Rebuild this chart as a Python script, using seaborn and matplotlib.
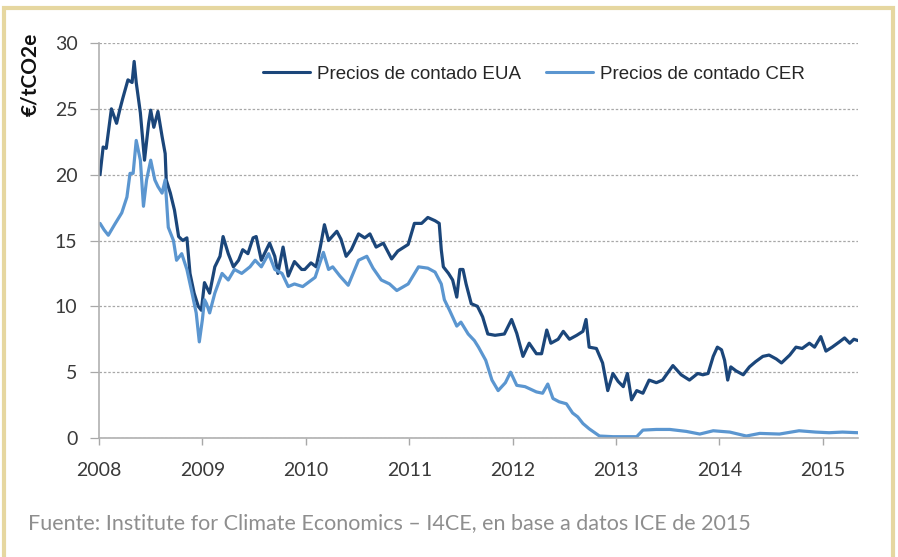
import numpy as np
import pandas as pd
import matplotlib
matplotlib.use("Agg")
import matplotlib.pyplot as plt
import seaborn as sns
from matplotlib.patches import Rectangle

# EUA spot prices (EUR/tCO2e), decimal years
eua_years = [
    2008.01, 2008.04, 2008.07, 2008.12, 2008.17, 2008.20, 2008.23, 2008.28, 2008.32, 2008.34,
    2008.36, 2008.40, 2008.44, 2008.48, 2008.50, 2008.53, 2008.57, 2008.61, 2008.64, 2008.65,
    2008.69, 2008.73, 2008.77, 2008.81, 2008.85, 2008.88, 2008.92, 2008.96, 2008.99, 2009.02,
    2009.07, 2009.12, 2009.17, 2009.20, 2009.25, 2009.30, 2009.35, 2009.39, 2009.44, 2009.49,
    2009.52, 2009.57, 2009.60, 2009.65, 2009.70, 2009.73, 2009.78, 2009.83, 2009.89, 2009.96,
    2009.99, 2010.05, 2010.10, 2010.14, 2010.18, 2010.22, 2010.30, 2010.34, 2010.39, 2010.44,
    2010.51, 2010.57, 2010.62, 2010.68, 2010.75, 2010.83, 2010.89, 2010.99, 2011.05, 2011.12,
    2011.18, 2011.25, 2011.29, 2011.31, 2011.33, 2011.38, 2011.42, 2011.46, 2011.49, 2011.52,
    2011.55, 2011.60, 2011.66, 2011.71, 2011.76, 2011.83, 2011.92, 2011.99, 2012.04, 2012.10,
    2012.16, 2012.23, 2012.28, 2012.33, 2012.37, 2012.44, 2012.49, 2012.55, 2012.62, 2012.68,
    2012.71, 2012.74, 2012.81, 2012.87, 2012.92, 2012.97, 2013.02, 2013.07, 2013.11, 2013.15,
    2013.20, 2013.26, 2013.32, 2013.39, 2013.45, 2013.55, 2013.63, 2013.71, 2013.79, 2013.84,
    2013.89, 2013.94, 2013.98, 2014.02, 2014.05, 2014.08, 2014.11, 2014.16, 2014.23, 2014.29,
    2014.35, 2014.42, 2014.48, 2014.55, 2014.60, 2014.68, 2014.74, 2014.80, 2014.87, 2014.92,
    2014.98, 2015.03, 2015.09, 2015.16, 2015.21, 2015.26, 2015.30, 2015.34,
]
eua_prices = [
    20.0, 22.1, 22.0, 25.0, 23.9, 24.9, 25.8, 27.2, 27.0, 28.6,
    27.0, 24.7, 21.1, 23.9, 24.9, 23.6, 24.8, 22.9, 21.6, 19.6,
    18.6, 17.3, 15.3, 15.0, 15.2, 12.5, 11.0, 10.0, 9.7, 11.8,
    11.0, 13.0, 13.8, 15.3, 14.0, 13.0, 13.5, 14.3, 14.0, 15.2,
    15.3, 13.5, 14.0, 14.8, 13.8, 12.5, 14.5, 12.3, 13.4, 12.8,
    12.8, 13.3, 13.0, 14.5, 16.2, 15.0, 15.7, 15.1, 13.8, 14.3,
    15.5, 15.2, 15.5, 14.5, 14.8, 13.6, 14.2, 14.7, 16.3, 16.3,
    16.75, 16.5, 16.3, 14.3, 13.0, 12.5, 12.0, 10.7, 12.8, 12.8,
    11.7, 10.2, 10.0, 9.2, 7.9, 7.8, 7.9, 9.0, 7.95, 6.2,
    7.2, 6.4, 6.4, 8.2, 7.2, 7.5, 8.1, 7.5, 7.8, 8.1,
    9.0, 6.9, 6.8, 5.7, 3.6, 4.9, 4.3, 3.9, 4.9, 2.9,
    3.6, 3.4, 4.4, 4.2, 4.4, 5.5, 4.8, 4.4, 4.9, 4.8,
    4.9, 6.2, 6.9, 6.7, 5.9, 4.4, 5.4, 5.1, 4.8, 5.4,
    5.8, 6.2, 6.3, 6.0, 5.7, 6.3, 6.9, 6.8, 7.2, 6.9,
    7.7, 6.6, 6.9, 7.3, 7.6, 7.2, 7.5, 7.4,
]

# CER spot prices (EUR/tCO2e)
cer_years = [
    2008.01, 2008.05, 2008.09, 2008.15, 2008.22, 2008.27, 2008.30, 2008.33, 2008.36, 2008.40,
    2008.43, 2008.46, 2008.50, 2008.54, 2008.57, 2008.61, 2008.64, 2008.67, 2008.72, 2008.75,
    2008.80, 2008.85, 2008.90, 2008.94, 2008.97, 2009.00, 2009.02, 2009.04, 2009.07, 2009.12,
    2009.19, 2009.25, 2009.31, 2009.38, 2009.46, 2009.51, 2009.57, 2009.64, 2009.70, 2009.77,
    2009.83, 2009.89, 2009.97, 2010.09, 2010.17, 2010.22, 2010.26, 2010.33, 2010.41, 2010.51,
    2010.59, 2010.65, 2010.73, 2010.81, 2010.88, 2010.99, 2011.09, 2011.18, 2011.25, 2011.31,
    2011.34, 2011.39, 2011.46, 2011.50, 2011.57, 2011.63, 2011.67, 2011.74, 2011.80, 2011.86,
    2011.93, 2011.98, 2012.04, 2012.12, 2012.23, 2012.29, 2012.34, 2012.39, 2012.45, 2012.52,
    2012.58, 2012.63, 2012.68, 2012.74, 2012.84, 2012.97, 2013.10, 2013.20, 2013.26, 2013.39,
    2013.52, 2013.68, 2013.81, 2013.94, 2014.10, 2014.26, 2014.39, 2014.58, 2014.77, 2014.93,
    2015.06, 2015.19, 2015.34,
]
cer_prices = [
    16.3, 15.8, 15.4, 16.2, 17.1, 18.3, 20.1, 20.1, 22.6, 21.1,
    17.6, 19.6, 21.1, 19.6, 19.1, 18.6, 19.6, 16.0, 15.0, 13.5,
    14.0, 12.8, 11.0, 9.5, 7.3, 9.0, 10.5, 10.2, 9.5, 11.0,
    12.5, 12.0, 12.8, 12.5, 13.0, 13.5, 13.0, 14.0, 12.8, 12.5,
    11.5, 11.7, 11.5, 12.2, 14.1, 12.8, 13.0, 12.3, 11.6, 13.5,
    13.8, 12.9, 12.0, 11.7, 11.2, 11.7, 13.0, 12.9, 12.6, 11.7,
    10.5, 9.7, 8.5, 8.8, 7.9, 7.4, 6.9, 5.9, 4.4, 3.6,
    4.2, 5.0, 4.0, 3.9, 3.5, 3.4, 4.1, 3.0, 2.75, 2.6,
    1.9, 1.6, 1.1, 0.7, 0.15, 0.1, 0.1, 0.1, 0.6, 0.65,
    0.65, 0.5, 0.3, 0.55, 0.45, 0.15, 0.35, 0.3, 0.55, 0.45,
    0.4, 0.45, 0.4,
]

series_labels = ["Precios de contado EUA", "Precios de contado CER"]
year_ticks = [2008, 2009, 2010, 2011, 2012, 2013, 2014, 2015]
price_ticks = [0, 5, 10, 15, 20, 25, 30]
source_text = "Fuente: Institute for Climate Economics \u2013 I4CE, en base a datos ICE de 2015"

df = pd.concat([
    pd.DataFrame({"year": eua_years, "price": eua_prices, "serie": series_labels[0]}),
    pd.DataFrame({"year": cer_years, "price": cer_prices, "serie": series_labels[1]}),
])

sns.set_theme(style="white")
plt.rcParams["font.family"] = ["Lato", "DejaVu Sans"]

W, H = 898, 557
fig = plt.figure(figsize=(W / 100, H / 100), dpi=100)
ax = fig.add_axes([99 / W, 1 - 438 / H, (858 - 99) / W, (438 - 43) / H])

palette = {series_labels[0]: "#1b467a", series_labels[1]: "#5b96d0"}
sns.lineplot(data=df, x="year", y="price", hue="serie", palette=palette,
             linewidth=2.3, ax=ax, legend=False, estimator=None, sort=False)

ax.set_xlim(2008, 2015.34)
ax.set_ylim(0, 30)
ax.set_xticks(year_ticks)
ax.set_yticks(price_ticks)
ax.set_xlabel("")
ax.set_ylabel("")

ax.grid(axis="y", color="#a8a8a8", linestyle=(0, (2, 1.5)), linewidth=0.9)
ax.grid(axis="x", visible=False)
ax.set_axisbelow(True)

for side in ["top", "right"]:
    ax.spines[side].set_visible(False)
for side in ["left", "bottom"]:
    ax.spines[side].set_color("#b0b0b0")
    ax.spines[side].set_linewidth(1.2)

ax.tick_params(axis="y", length=6.5, width=0.9, color="#a8a8a8", pad=9,
               labelsize=14, labelcolor="#3a3a3a", direction="out", left=True)
ax.tick_params(axis="x", length=5, width=1.0, color="#a8a8a8", pad=12,
               labelsize=14, labelcolor="#3a3a3a", direction="out", bottom=True)

# legend
handles = [plt.Line2D([], [], color=palette[s], linewidth=2.2) for s in series_labels]
fig.legend(handles, series_labels, loc="center", bbox_to_anchor=(534 / W, 1 - 74 / H),
           ncol=2, frameon=False, handlelength=2.5, handletextpad=0.4, columnspacing=1.3,
           prop={"family": ["Liberation Sans", "DejaVu Sans"], "size": 13.5})

# y label at top left
fig.text(30 / W, 1 - 74 / H, "\u20ac/tCO2e", rotation=90, ha="center", va="center",
         fontsize=15, fontweight="bold", color="#111111")

# source line
fig.text(28 / W, 1 - 523 / H, source_text, ha="left", va="center",
         fontsize=15.5, fontweight="normal", color="#8e8e8e")

# beige frame
fig.patches.append(Rectangle((4 / W, -0.05), (893 - 4) / W, 1.05 - 8 / H,
                             transform=fig.transFigure, fill=False,
                             edgecolor="#e6d7a0", linewidth=3, zorder=0))

fig.savefig("out.png", dpi=100)
